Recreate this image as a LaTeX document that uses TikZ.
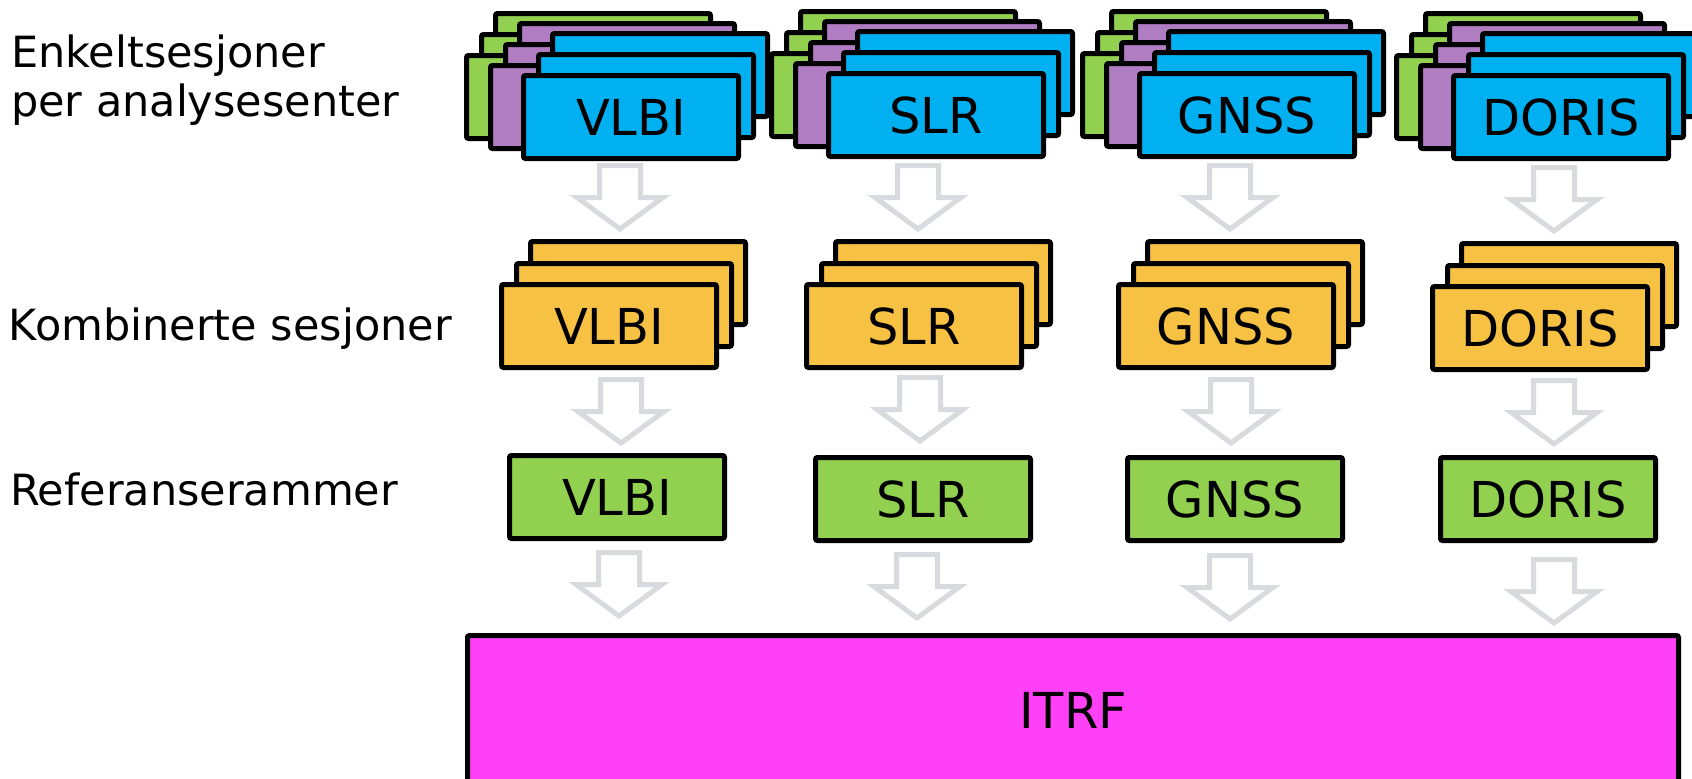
\documentclass[tikz,border=0pt]{standalone}
\usepackage{fontspec}
\setmainfont{DejaVu Sans}

\definecolor{sesblue}{HTML}{00B0F0}
\definecolor{sesgreen}{HTML}{92D050}
\definecolor{sespurple}{HTML}{B07CC2}
\definecolor{combyellow}{HTML}{F7C244}
\definecolor{itrfpink}{HTML}{FF40F6}
\definecolor{arrowgray}{HTML}{D9DADE}

\tikzset{
  card/.style={draw=black, line width=5pt, rounded corners=2pt,
    minimum width=215pt, minimum height=83pt, inner sep=0pt, outer sep=0pt,
    font=\fontsize{49.5}{59}\selectfont},
  rowlabel/.style={anchor=base west, inner sep=0pt, outer sep=0pt,
    font=\fontsize{43}{51}\selectfont},
  flowarrow/.pic={
    \draw[line width=5pt, draw=arrowgray, fill=white, line join=miter]
      (-20.5,2.5) -- (20.5,2.5) -- (20.5,34.5) -- (43,34.5) -- (0,66)
      -- (-43,34.5) -- (-20.5,34.5) -- cycle;
  }
}

\begin{document}
\begin{tikzpicture}[x=1pt,y=-1pt]
\useasboundingbox (0,0) rectangle (1692,779);
\clip (0,0) rectangle (1692,779);

% row labels
\node[rowlabel] (lab1a) at (11,67) {Enkeltsesjoner};
\node[rowlabel] (lab1b) at (11,116) {per analysesenter};
\node[rowlabel] (lab2) at (9,340) {Kombinerte sesjoner};
\node[rowlabel] (lab3) at (10,505) {Referanserammer};

% single sessions: three stacks (green, purple, blue) per technique
\foreach \nm/\bx/\by/\lab in {vlbi/521/73/VLBI, slr/826/71/SLR, gnss/1137/71/GNSS, doris/1451/73/DORIS}{
  \foreach \col/\dx/\dy in {sesgreen/-57/-20, sespurple/-33/-10}{
    \node[card, fill=\col] (s-\nm-\col-3) at (\bx+110+\dx+29, \by+44+\dy-42) {};
    \node[card, fill=\col] (s-\nm-\col-2) at (\bx+110+\dx+15, \by+44+\dy-21) {};
    \node[card, fill=\col] (s-\nm-\col-1) at (\bx+110+\dx, \by+44+\dy) {};
  }
  \node[card, fill=sesblue] (s-\nm-3) at (\bx+110+29, \by+44-42) {};
  \node[card, fill=sesblue] (s-\nm-2) at (\bx+110+15, \by+44-21) {};
  \node[card, fill=sesblue] (s-\nm) at (\bx+110, \by+44) {\lab};
}

% combined sessions
\foreach \nm/\fx/\fy/\lab in {vlbi/499/282/VLBI, slr/804/282/SLR, gnss/1116/282/GNSS, doris/1430/284/DORIS}{
  \node[card, fill=combyellow] (c-\nm-3) at (\fx+110+29, \fy+44-43) {};
  \node[card, fill=combyellow] (c-\nm-2) at (\fx+110+15, \fy+44-21) {};
  \node[card, fill=combyellow] (c-\nm) at (\fx+110, \fy+44) {\lab};
}

% reference frames per technique
\foreach \nm/\fx/\fy/\lab in {vlbi/507/453/VLBI, slr/813/455/SLR, gnss/1125/455/GNSS, doris/1438/455/DORIS}{
  \node[card, fill=sesgreen] (r-\nm) at (\fx+110, \fy+44) {\lab};
}

% combined frame
\node[card, fill=itrfpink, minimum width=1211pt, minimum height=149pt]
  (itrf) at (1073,710) {ITRF};

% block arrows between the levels
\foreach \ax/\ay in {620/163, 918/163, 1230/163, 1554/165,
                     621/377, 920/375, 1231/377, 1554/378,
                     619/550, 917/552, 1230/553, 1554/557}{
  \pic at (\ax,\ay) {flowarrow};
}
\end{tikzpicture}
\end{document}
